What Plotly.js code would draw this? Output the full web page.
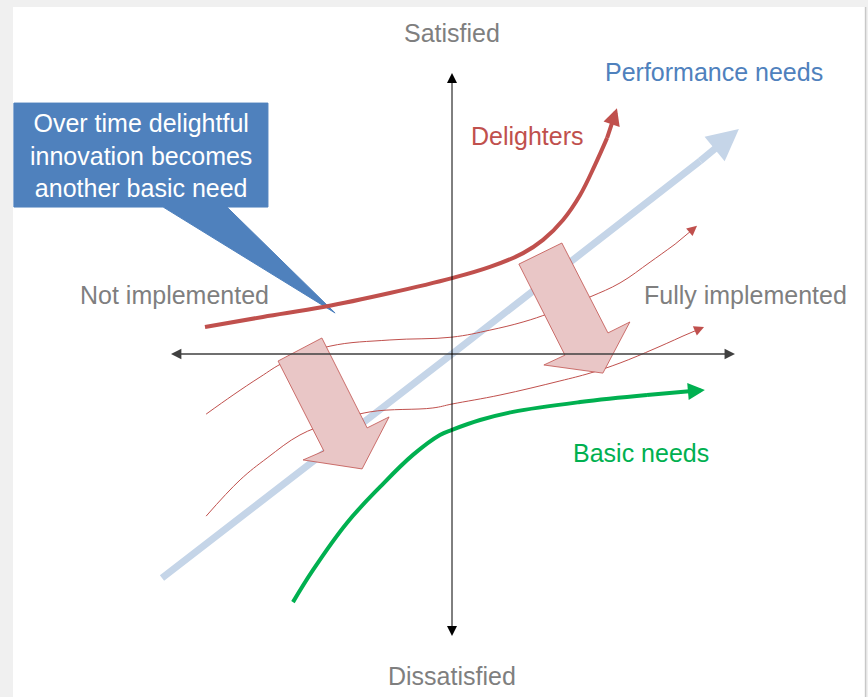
<!DOCTYPE html>
<html>
<head>
<meta charset="utf-8">
<script src="https://cdn.plot.ly/plotly-3.0.1.min.js"></script>
<style>html,body{margin:0;padding:0;background:#f0f0f0;}#chart{width:868px;height:697px;}</style>
</head>
<body>
<div id="chart"></div>
<script>
// Kano model curves, in chart units (x: implementation -1..1, y: satisfaction -1..1)
const delightersX = [-0.879, -0.673, -0.459, -0.221, 0, 0.135, 0.253, 0.324, 0.395, 0.456, 0.509, 0.552, 0.587];
const delightersY = [0.096, 0.132, 0.167, 0.217, 0.270, 0.310, 0.359, 0.406, 0.477, 0.566, 0.673, 0.769, 0.875];

const performanceX = [-1.032, 0, 0.883, 1.021];
const performanceY = [-0.797, 0, 0.687, 0.801];

const basicX = [-0.566, -0.495, -0.374, -0.256, -0.139, -0.043, 0, 0.100, 0.217, 0.456, 0.694, 0.900];
const basicY = [-0.883, -0.769, -0.601, -0.473, -0.359, -0.288, -0.270, -0.235, -0.206, -0.171, -0.146, -0.128];

const shiftUpperX = [-0.875, -0.779, -0.683, -0.594, -0.434, -0.221, 0, 0.135, 0.253, 0.349, 0.491, 0.598, 0.705, 0.794, 0.872];
const shiftUpperY = [-0.214, -0.146, -0.082, -0.028, 0.028, 0.050, 0.060, 0.085, 0.114, 0.146, 0.203, 0.253, 0.327, 0.391, 0.456];

const shiftLowerX = [-0.875, -0.754, -0.658, -0.541, -0.434, -0.292, -0.068, 0, 0.171, 0.384, 0.491, 0.598, 0.719, 0.822, 0.897];
const shiftLowerY = [-0.577, -0.448, -0.370, -0.288, -0.246, -0.206, -0.192, -0.178, -0.146, -0.096, -0.068, -0.032, 0.018, 0.064, 0.096];

// Block arrows showing the downward drift
const driftLeftX = [-0.619, -0.463, -0.302, -0.224, -0.320, -0.530, -0.456, -0.619];
const driftLeftY = [-0.025, 0.057, -0.263, -0.224, -0.409, -0.377, -0.345, -0.025];
const driftRightX = [0.238, 0.391, 0.555, 0.633, 0.537, 0.327, 0.402, 0.238];
const driftRightY = [0.320, 0.395, 0.075, 0.114, -0.068, -0.039, -0.004, 0.320];

// Callout
const calloutX = [-1.559, -0.655, -0.655, -0.801, -0.416, -1.028, -1.559, -1.559];
const calloutY = [0.893, 0.893, 0.523, 0.523, 0.146, 0.523, 0.523, 0.893];
const calloutText = "Over time delightful<br>innovation becomes<br>another basic need";

// Axes extents
const axisXEnds = [-1.0, 1.007];
const axisYEnds = [1.0, -1.0036];

const labels = [
  {text: "Satisfied", x: 0, y: 1.142, color: "#7F7F7F"},
  {text: "Dissatisfied", x: 0, y: -1.146, color: "#7F7F7F"},
  {text: "Not implemented", x: -0.989, y: 0.210, color: "#7F7F7F"},
  {text: "Fully implemented", x: 1.043, y: 0.210, color: "#7F7F7F"},
  {text: "Performance needs", x: 0.932, y: 1.004, color: "#4F81BD"},
  {text: "Delighters", x: 0.267, y: 0.776, color: "#C0504D"},
  {text: "Basic needs", x: 0.673, y: -0.352, color: "#00B050"}
];

const FONT = "Arial, 'Liberation Sans', sans-serif";
const RED = "#C0504D";

function body(arr) { return arr.slice(0, arr.length - 1); }
function curve(xs, ys, color, width) {
  return {x: body(xs), y: body(ys), mode: "lines", type: "scatter",
    line: {color: color, width: width, shape: "spline", smoothing: 1.1}, hoverinfo: "skip"};
}
function arrowAnn(o) {
  return Object.assign({xref: "x", yref: "y", axref: "x", ayref: "y", text: " ", showarrow: true,
    arrowhead: 2, font: {size: 1}, borderpad: 0, borderwidth: 0}, o);
}
function head(xs, ys, color, width, size) {
  const n = xs.length;
  return arrowAnn({x: xs[n-1], y: ys[n-1], ax: xs[n-2], ay: ys[n-2],
    arrowcolor: color, arrowwidth: width, arrowsize: size});
}

const traces = [
  {x: calloutX, y: calloutY, mode: "lines", fill: "toself", fillcolor: "#4F81BD",
    line: {color: "#4F81BD", width: 1}, hoverinfo: "skip"},
  curve(performanceX, performanceY, "#C5D5E8", 7),
  curve(shiftUpperX, shiftUpperY, RED, 1),
  curve(shiftLowerX, shiftLowerY, RED, 1),
  curve(basicX, basicY, "#00B050", 4),
  curve(delightersX, delightersY, RED, 4),
  {x: driftLeftX, y: driftLeftY, mode: "lines", fill: "toself", fillcolor: "#E9C6C6",
    line: {color: RED, width: 0.8}, hoverinfo: "skip"},
  {x: driftRightX, y: driftRightY, mode: "lines", fill: "toself", fillcolor: "#E9C6C6",
    line: {color: RED, width: 0.8}, hoverinfo: "skip"}
];

const annotations = [
  // axes
  arrowAnn({x: axisXEnds[1], y: 0, ax: axisXEnds[0], ay: 0, arrowside: "end+start",
    arrowcolor: "#404040", arrowwidth: 1.3, arrowsize: 1.6}),
  arrowAnn({x: 0, y: axisYEnds[1], ax: 0, ay: axisYEnds[0], arrowside: "end+start",
    arrowcolor: "#000000", arrowwidth: 1, arrowsize: 2}),
  head(performanceX, performanceY, "#C5D5E8", 7, 0.9),
  head(shiftUpperX, shiftUpperY, RED, 1, 2),
  head(shiftLowerX, shiftLowerY, RED, 1, 2),
  head(basicX, basicY, "#00B050", 4, 0.85),
  head(delightersX, delightersY, RED, 4, 0.85),
  {x: -1.107, y: 0.708, xref: "x", yref: "y", text: calloutText, showarrow: false,
    font: {family: FONT, size: 25, color: "#FFFFFF"}, align: "center"}
];
labels.forEach(l => annotations.push({x: l.x, y: l.y, xref: "x", yref: "y", text: l.text, showarrow: false,
  font: {family: FONT, size: 25, color: l.color}}));

const layout = {
  width: 868, height: 697,
  margin: {l: 0, r: 0, t: 0, b: 0},
  paper_bgcolor: "#f0f0f0", plot_bgcolor: "rgba(0,0,0,0)",
  showlegend: false, hovermode: false,
  xaxis: {range: [-1.6085, 1.4804], visible: false, fixedrange: true},
  yaxis: {range: [-1.2206, 1.2598], visible: false, fixedrange: true},
  shapes: [
    {type: "rect", xref: "paper", yref: "paper", x0: 0.015, x1: 0.9965, y0: -0.01, y1: 0.99,
      fillcolor: "#FFFFFF", line: {width: 0}, layer: "below"},
    {type: "line", xref: "paper", yref: "paper", x0: 0.9972, x1: 0.9972, y0: 0, y1: 0.99,
      line: {color: "#C8C8C8", width: 1.5}, layer: "below"}
  ],
  annotations: annotations
};

Plotly.newPlot("chart", traces, layout, {displayModeBar: false, staticPlot: true});
</script>
</body>
</html>
